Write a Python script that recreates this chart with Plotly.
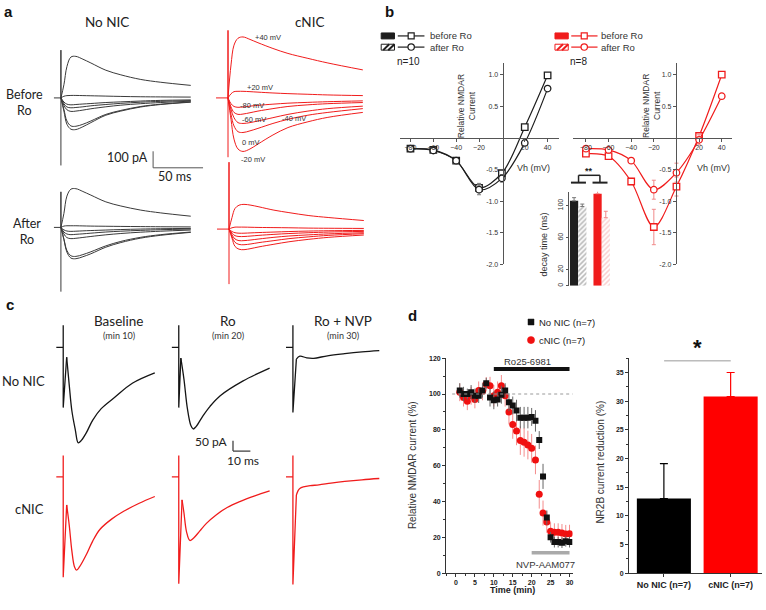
import plotly.graph_objects as go

W, H = 766, 610

# ======================= DATA =======================
# ---- Panel a: example NMDAR currents (time in ms, current in pA) ----
A_T_NONIC = [0, 3, 6, 10, 15, 22, 30, 45, 60, 80, 100, 130]
A_T_CNIC = [0, 3, 6, 10, 15, 22, 30, 45, 60, 80, 100, 135]
A_NONIC_BEFORE = {
    "+40": [0, 80, 190, 248, 252, 235, 212, 168, 140, 112, 95, 76],
    "+20": [0, 10, 14, 15, 15, 14, 13, 11, 9, 7, 6, 5],
    "-80": [0, -25, -38, -42, -40, -37, -34, -28, -24, -19, -15, -12],
    "-60": [0, -35, -55, -60, -58, -54, -48, -40, -33, -26, -21, -16],
    "-40": [0, -45, -72, -82, -80, -74, -66, -54, -44, -35, -28, -20],
    "0": [0, -70, -140, -170, -172, -160, -140, -100, -76, -52, -38, -24],
    "-20": [0, -80, -160, -190, -192, -175, -150, -105, -80, -55, -40, -26],
}
A_NONIC_AFTER = {
    "+40": [0, 85, 190, 232, 235, 218, 196, 155, 130, 105, 88, 68],
    "+20": [0, 8, 10, 10, 10, 9, 8, 7, 6, 5, 4, 3],
    "-80": [0, -15, -22, -24, -23, -21, -19, -16, -13, -10, -8, -6],
    "-60": [0, -28, -40, -44, -42, -39, -35, -28, -23, -18, -14, -10],
    "-40": [0, -40, -62, -68, -66, -61, -55, -45, -37, -29, -23, -16],
    "0": [0, -70, -140, -172, -176, -165, -148, -112, -85, -60, -44, -28],
    "-20": [0, -75, -150, -186, -190, -178, -160, -120, -92, -65, -48, -30],
}
A_CNIC_BEFORE = {
    "+40": [0, 200, 320, 362, 370, 355, 335, 300, 270, 240, 212, 170],
    "+20": [0, 25, 38, 40, 40, 38, 35, 30, 26, 22, 18, 14],
    "-80": [0, -35, -52, -57, -55, -50, -45, -38, -32, -27, -23, -18],
    "-60": [0, -55, -88, -100, -98, -90, -80, -65, -52, -42, -35, -28],
    "-40": [0, -70, -120, -150, -155, -150, -140, -120, -100, -80, -65, -50],
    "0": [0, -100, -170, -205, -210, -200, -185, -155, -130, -105, -88, -65],
    "-20": [0, -130, -250, -310, -325, -310, -280, -225, -180, -145, -118, -88],
}
A_CNIC_AFTER = {
    "+40": [0, 70, 125, 145, 150, 145, 135, 115, 100, 82, 70, 52],
    "+20": [0, 8, 12, 12, 12, 11, 10, 9, 8, 6, 5, 4],
    "-80": [0, -15, -22, -25, -25, -23, -21, -18, -15, -12, -10, -8],
    "-60": [0, -25, -40, -45, -45, -42, -38, -32, -27, -22, -18, -14],
    "-40": [0, -35, -60, -70, -70, -66, -60, -50, -42, -35, -29, -22],
    "0": [0, -45, -80, -93, -95, -90, -82, -70, -58, -47, -38, -28],
    "-20": [0, -55, -105, -122, -125, -118, -108, -92, -77, -62, -50, -36],
}
A_STIM_NONIC_BEFORE = [290, -410]
A_STIM_NONIC_AFTER = [216, -390]
A_STIM_CNIC_BEFORE = [410, -360]
A_STIM_CNIC_AFTER = [406, -334]
A_VOLT_TEXT = ["+40 mV", "+20 mV", "-80 mV", "-60 mV", "-40 mV", "0 mV", "-20 mV"]

# ---- Panel b: I-V relations and decay times ----
IV_V = [-80, -60, -40, -20, 0, 20, 40]
IV_NONIC_BEFORE = [-0.17, -0.19, -0.36, -0.79, -0.56, 0.17, 0.99]
IV_NONIC_BEFORE_ERR = [0.03, 0.03, 0.03, 0.07, 0.06, 0.04, 0.02]
IV_NONIC_AFTER = [-0.17, -0.20, -0.36, -0.82, -0.64, -0.08, 0.78]
IV_NONIC_AFTER_ERR = [0.03, 0.03, 0.03, 0.08, 0.06, 0.04, 0.03]
IV_CNIC_BEFORE = [-0.25, -0.29, -0.69, -1.41, -0.77, 0.03, 1.00]
IV_CNIC_BEFORE_ERR = [0.03, 0.03, 0.05, 0.28, 0.15, 0.05, 0.02]
IV_CNIC_AFTER = [-0.17, -0.19, -0.36, -0.82, -0.55, -0.03, 0.66]
IV_CNIC_AFTER_ERR = [0.03, 0.03, 0.04, 0.15, 0.15, 0.08, 0.03]
IV_XTICKS = [-80, -60, -40, -20, 20, 40]
IV_YTICKS = [-2.0, -1.5, -1.0, -0.5, 0.5, 1.0]
IV_YTICKTEXT = ["-2.0", "-1.5", "-1.0", "-0.5", "0.5", "1.0"]

DECAY_GROUPS = ["No NIC", "cNIC"]
DECAY_BEFORE = [106, 115]
DECAY_BEFORE_ERR = [4, 10]
DECAY_AFTER = [99, 85]
DECAY_AFTER_ERR = [3, 8]
DECAY_TICKS = [0, 20, 60, 100]

# ---- Panel c: currents over the experiment (time in ms, current in pA) ----
C_NONIC_BASE_T = [2, 3.5, 5, 7, 8.7, 10.5, 13.5, 17, 22, 30, 40, 53]
C_NONIC_BASE = [-47, -180, -300, -390, -452, -440, -402, -345, -290, -235, -170, -121]
C_NONIC_RO_T = [1.2, 3, 5, 7, 8.3, 10, 14, 18, 24, 37, 52.6]
C_NONIC_RO = [-51, -150, -290, -370, -386, -375, -324, -280, -229, -160, -98]
C_NONIC_NVP_T = [2, 4, 8, 12, 20, 30, 40, 50]
C_NONIC_NVP = [-56, -42, -50, -52, -40, -30, -22, -16]
C_CNIC_BASE_T = [2, 3.5, 5, 6.5, 7.7, 9.5, 13.5, 17, 21.2, 28, 35, 44, 53]
C_CNIC_BASE = [-133, -230, -350, -425, -441, -425, -366, -305, -249, -200, -163, -125, -93]
C_CNIC_RO_T = [1.9, 3, 4.5, 6.4, 8.5, 12.1, 16, 21.8, 28, 35.3, 44, 52.6]
C_CNIC_RO = [-109, -170, -260, -301, -290, -257, -220, -179, -145, -117, -90, -67]
C_CNIC_NVP_T = [2, 3, 4, 6, 10, 15, 22, 30, 40, 50]
C_CNIC_NVP = [-86, -65, -55, -48, -42, -38, -30, -22, -14, -8]
C_STIM_NONIC = [[104, -285], [104, -285], [104, -308]]
C_STIM_CNIC = [[101, -475], [101, -505], [101, -509]]
C_COLUMNS = ["Baseline", "Ro", "Ro + NVP"]
C_COLUMN_SUB = ["(min 10)", "(min 20)", "(min 30)"]

# ---- Panel d: time course and NR2B fraction ----
TIME_MIN = list(range(1, 31))
NONIC_TC = [102, 100, 100, 101, 99, 99, 102, 106, 98, 96.5, 97, 99.6, 102, 95.4, 93.6,
            90.8, 86.8, 86.8, 86.8, 87.2, 85, 74.3, 54, 31, 20, 17.3, 17.3, 17, 17.8, 17.3]
NONIC_TC_ERR = [4, 4, 3, 4, 4, 4, 4, 3, 5, 5, 4, 5, 4, 5, 5, 6, 6, 6, 6, 5, 6, 5, 7, 4,
                3, 3, 3, 3, 3, 3]
CNIC_TC = [101, 98, 96, 99, 97, 102, 101.5, 105.5, 104.6, 99, 101, 104.6, 99, 90, 83,
           79.4, 74, 73, 71.5, 69.7, 63.2, 44, 33.5, 28.5, 23.3, 22.8, 22.8, 22.4, 21.9, 22]
CNIC_TC_ERR = [5, 5, 5, 5, 5, 5, 5, 4, 5, 6, 6, 6, 6, 7, 8, 8, 8, 8, 8, 8, 8, 8, 7, 6,
               5, 5, 5, 5, 5, 5]
RO_PERIOD = [10, 30]
NVP_PERIOD = [20, 30]
NR2B_GROUPS = ["No NIC (n=7)", "cNIC (n=7)"]
NR2B_MEAN = [13.0, 30.8]
NR2B_ERR = [6.1, 4.2]

# ======================= HELPERS =======================
BLACK = "#1e1e1e"
TRACE_BLACK = "#3a3a3a"
C_BLACK = "#151515"
RED = "#f01c1c"
ARIAL = "Liberation Sans, Arial, sans-serif"
HUMAN = "Lato, Open Sans, sans-serif"

fig = go.Figure()
axes = {}
n_ax = [0]


def new_axes(xpx, ypx, xr, yr, xo=None, yo=None):
    n_ax[0] += 1
    i = n_ax[0]
    sx = "" if i == 1 else str(i)
    xa = dict(domain=[xpx[0] / W, xpx[1] / W], range=xr, anchor="y" + sx,
              visible=False, fixedrange=True, showgrid=False, zeroline=False)
    ya = dict(domain=[1 - ypx[1] / H, 1 - ypx[0] / H], range=yr, anchor="x" + sx,
              visible=False, fixedrange=True, showgrid=False, zeroline=False)
    if xo:
        xa.update(xo)
    if yo:
        ya.update(yo)
    axes["xaxis" + sx] = xa
    axes["yaxis" + sx] = ya
    return "x" + sx, "y" + sx


def trace_axes(xpx, ypx, t0px, basepx, ms_per_px, pa_per_px):
    xr = [(xpx[0] - t0px) * ms_per_px, (xpx[1] - t0px) * ms_per_px]
    yr = [(basepx - ypx[1]) * pa_per_px, (basepx - ypx[0]) * pa_per_px]
    return new_axes(xpx, ypx, xr, yr)


def line_trace(xref, yref, x, y, color, width=1.0, shape="linear"):
    fig.add_trace(go.Scatter(x=x, y=y, xaxis=xref, yaxis=yref, mode="lines",
                             line=dict(color=color, width=width, shape=shape),
                             hoverinfo="skip", showlegend=False))


ann = []
shapes = []


def text(x, y, s, size=9, family=ARIAL, color="#222", xanchor="center", angle=0):
    ann.append(dict(x=x / W, y=1 - y / H, xref="paper", yref="paper", text=s,
                    showarrow=False, xanchor=xanchor, yanchor="middle", textangle=angle,
                    font=dict(size=size, family=family, color=color)))


def pline(x0, y0, x1, y1, color="#333", width=1.0, dash=None):
    shapes.append(dict(type="line", xref="paper", yref="paper", x0=x0 / W, y0=1 - y0 / H,
                       x1=x1 / W, y1=1 - y1 / H, line=dict(color=color, width=width, dash=dash)))


def prect(x0, y0, x1, y1, fill, lc, width=1.0):
    shapes.append(dict(type="rect", xref="paper", yref="paper", x0=x0 / W, y0=1 - y1 / H,
                       x1=x1 / W, y1=1 - y0 / H, fillcolor=fill, line=dict(color=lc, width=width)))


def pcircle(cx, cy, r, fill, lc, width=1.0):
    shapes.append(dict(type="circle", xref="paper", yref="paper", x0=(cx - r) / W,
                       y0=1 - (cy + r) / H, x1=(cx + r) / W, y1=1 - (cy - r) / H,
                       fillcolor=fill, line=dict(color=lc, width=width)))


# ======================= PANEL a =======================
A_MS_PER_PX, A_PA_PER_PX = 1.0, 6.0
A_BLOCKS = [
    (A_NONIC_BEFORE, A_T_NONIC, A_STIM_NONIC_BEFORE, 7, TRACE_BLACK, (45, 200), (20, 172), 61, 95),
    (A_CNIC_BEFORE, A_T_CNIC, A_STIM_CNIC_BEFORE, 12, RED, (205, 372), (20, 172), 228.3, 95),
    (A_NONIC_AFTER, A_T_NONIC, A_STIM_NONIC_AFTER, 7, TRACE_BLACK, (45, 200), (175, 300), 61, 226),
    (A_CNIC_AFTER, A_T_CNIC, A_STIM_CNIC_AFTER, 12, RED, (205, 372), (155, 300), 229.3, 227.7),
]
for traces, t, stim, stub, color, xpx, ypx, t0px, basepx in A_BLOCKS:
    xr_, yr_ = trace_axes(xpx, ypx, t0px, basepx, A_MS_PER_PX, A_PA_PER_PX)
    line_trace(xr_, yr_, [-stub, 0, 0, 0], [0, 0, stim[0], stim[1]], color, 1.0)
    for v, vals in traces.items():
        line_trace(xr_, yr_, t, vals, color, 1.0, "spline")

text(2, 8, "<b>a</b>", 15, ARIAL, "#111", "left")
text(107, 18, "No NIC", 13.5, HUMAN, "#222")
text(310, 18, "cNIC", 13.5, HUMAN, "#222")
text(25, 100, "Before<br>Ro", 12.5, HUMAN, "#222")
text(27, 230, "After<br>Ro", 12.5, HUMAN, "#222")
text(128, 155, "100 pA", 12.5, HUMAN, "#222")
text(175, 175, "50 ms", 12.5, HUMAN, "#222")
pline(153.3, 149, 153.3, 165.7, "#555", 1)
pline(153.3, 165.7, 203.3, 165.7, "#555", 1)
A_VOLT_POS = [(268, 34), (260, 84.3), (252.5, 102.7), (254, 117.3), (294, 115.7), (251, 140), (253, 157.7)]
for s, (x, y) in zip(A_VOLT_TEXT, A_VOLT_POS):
    text(x, y, s, 7.5, ARIAL, "#333")

# ======================= PANEL b =======================
IV_YPX = (60, 263.3)
IV_YR = [-2.0, 1.18]
IV_X0_PY = 135.6
iv_specs = [
    ((400.7, 560), [-89, 50.2], 503.3, IV_NONIC_BEFORE, IV_NONIC_BEFORE_ERR,
     IV_NONIC_AFTER, IV_NONIC_AFTER_ERR, BLACK, "#777"),
    ((574, 733), [-91.2, 49.1], 676.7, IV_CNIC_BEFORE, IV_CNIC_BEFORE_ERR,
     IV_CNIC_AFTER, IV_CNIC_AFTER_ERR, RED, "#f08a8a"),
]
axis_style = dict(visible=True, ticks="outside", ticklen=3, tickcolor="#555", showline=True,
                  linecolor="#555", linewidth=1, tickfont=dict(size=7, color="#333", family=ARIAL),
                  showgrid=False, zeroline=False)
for xpx, xr, yax_px, bef, bef_e, aft, aft_e, color, ecolor in iv_specs:
    xo = dict(axis_style, anchor="free", position=1 - IV_X0_PY / H, tickvals=IV_XTICKS)
    yo = dict(axis_style, anchor="free", position=yax_px / W, tickvals=IV_YTICKS,
              ticktext=IV_YTICKTEXT)
    xr_, yr_ = new_axes(xpx, IV_YPX, xr, IV_YR, xo, yo)
    for vals, errs, sym in [(bef, bef_e, "square"), (aft, aft_e, "circle")]:
        fig.add_trace(go.Scatter(
            x=IV_V, y=vals, xaxis=xr_, yaxis=yr_, mode="lines+markers",
            line=dict(color=color, width=1.2, shape="spline", smoothing=0.9),
            marker=dict(symbol=sym, size=6.5, color="white", line=dict(color=color, width=1.3)),
            error_y=dict(type="data", array=errs, color=ecolor, thickness=1, width=2),
            hoverinfo="skip", showlegend=False))

text(467, 103, "Relative NMDAR<br>Current", 8.5, ARIAL, "#333", angle=-90)
text(653, 103, "Relative NMDAR<br>Current", 8.5, ARIAL, "#333", angle=-90)
text(534, 165.7, "Vh (mV)", 9, ARIAL, "#333")
text(714, 165.7, "Vh (mV)", 9, ARIAL, "#333")
text(383, 8, "<b>b</b>", 15, ARIAL, "#111", "left")
text(396, 58.3, "n=10", 10, ARIAL, "#222", "left")
text(569, 58.3, "n=8", 10, ARIAL, "#222", "left")

# legends (drawn)
for bx0, lx0, lx1, mx, tx, col in [(381.7, 398.3, 425, 411.7, 429, BLACK),
                                    (555.7, 572, 598.3, 585, 600, RED)]:
    prect(bx0, 29.3, bx0 + 13.3, 35.3, col, col, 1)
    pline(lx0, 32.3, lx1, 32.3, col, 1.2)
    prect(mx - 3, 29.3, mx + 3, 35.3, "white", col, 1.2)
    text(tx, 32.3, "before Ro", 9.5, ARIAL, "#333", "left")
    prect(bx0, 40.7, bx0 + 13.3, 46.7, "white", col, 1)
    pline(bx0 + 2, 46.7, bx0 + 8, 40.7, col, 2)
    pline(bx0 + 7, 46.7, bx0 + 13.3, 40.7, col, 2)
    pline(lx0, 43.6, lx1, 43.6, col, 1.2)
    pcircle(mx, 43.6, 3.2, "white", col, 1.2)
    text(tx, 43.6, "after Ro", 9.5, ARIAL, "#333", "left")

# decay time inset
dx_, dy_ = new_axes((569.3, 614), (190, 285), [-0.41, 1.49], [0, 117.3],
                    dict(type="category", categoryarray=DECAY_GROUPS),
                    dict(visible=True, tickvals=DECAY_TICKS, tickangle=-90, ticks="outside",
                         ticklen=2, tickcolor="#555", showline=True, linecolor="#555",
                         tickfont=dict(size=7, color="#333", family=ARIAL)))
DECAY_COLORS = [BLACK, RED]
DECAY_HATCH = ["#6a6a6a", "#f4a0a0"]
DECAY_ECOL = ["#777", "#f08a8a"]
for i, g in enumerate(DECAY_GROUPS):
    fig.add_trace(go.Bar(x=[g], y=[DECAY_BEFORE[i]], xaxis=dx_, yaxis=dy_, width=0.35,
                         offset=-0.35, marker=dict(color=DECAY_COLORS[i], line=dict(width=0)),
                         error_y=dict(type="data", array=[DECAY_BEFORE_ERR[i]], arrayminus=[0],
                                      symmetric=False, color=DECAY_ECOL[i], thickness=1, width=2),
                         cliponaxis=False, hoverinfo="skip", showlegend=False))
    fig.add_trace(go.Bar(x=[g], y=[DECAY_AFTER[i]], xaxis=dx_, yaxis=dy_, width=0.35,
                         offset=0.0,
                         marker=dict(color="white", line=dict(width=0),
                                     pattern=dict(shape="/", fgcolor=DECAY_HATCH[i],
                                                  bgcolor="white", size=3.5, solidity=0.45)),
                         error_y=dict(type="data", array=[DECAY_AFTER_ERR[i]], arrayminus=[0],
                                      symmetric=False, color=DECAY_ECOL[i], thickness=1, width=2),
                         cliponaxis=False, hoverinfo="skip", showlegend=False))
text(545, 243, "decay time (ms)", 9, ARIAL, "#333", angle=-90)
text(589.3, 168.5, "<b>**</b>", 9, ARIAL, "#222")
pline(579.3, 173.3, 600.7, 173.3, "#222", 1.5)
pline(579.3, 173.3, 579.3, 180.7, "#222", 1.5)
pline(600.7, 173.3, 600.7, 180.7, "#222", 1.5)
pline(571.7, 180.7, 586.7, 180.7, "#222", 2)
pline(593.3, 180.7, 608.3, 180.7, "#222", 2)

# ======================= PANEL c =======================
C_MS_PER_PX, C_PA_PER_PX = 10 / 17.3, 50 / 10.7
C_COL_X = [(48, 162, 63.3), (165, 278, 179), (281, 386, 293.3)]
C_ROWS = [((318, 462), 347.3, C_BLACK,
           [(C_NONIC_BASE_T, C_NONIC_BASE), (C_NONIC_RO_T, C_NONIC_RO), (C_NONIC_NVP_T, C_NONIC_NVP)],
           C_STIM_NONIC),
          ((450, 595), 478.3, RED,
           [(C_CNIC_BASE_T, C_CNIC_BASE), (C_CNIC_RO_T, C_CNIC_RO), (C_CNIC_NVP_T, C_CNIC_NVP)],
           C_STIM_CNIC)]
for ypx, basepx, color, series, stims in C_ROWS:
    for (x0, x1, t0px), (t, vals), stim in zip(C_COL_X, series, stims):
        xr_, yr_ = trace_axes((x0, x1), ypx, t0px, basepx, C_MS_PER_PX, C_PA_PER_PX)
        line_trace(xr_, yr_, [-4, 0, 0, 0, t[0]], [0, 0, stim[0], stim[1], vals[0]], color, 1.3)
        line_trace(xr_, yr_, t, vals, color, 1.3, "spline")

text(4, 304, "<b>c</b>", 15, ARIAL, "#111", "left")
for s, sub, cx in zip(C_COLUMNS, C_COLUMN_SUB, [119, 228.3, 343.3]):
    text(cx, 320.7, s, 13.5, HUMAN, "#222")
    text(cx, 335.5, sub, 9, HUMAN, "#333")
text(23.3, 381.7, "No NIC", 13, HUMAN, "#222")
text(30, 510.7, "cNIC", 13, HUMAN, "#222")
text(211.7, 442.7, "50 pA", 12, HUMAN, "#222")
text(243, 461.7, "10 ms", 12, HUMAN, "#222")
pline(233.3, 441.7, 233.3, 452.3, "#333", 1.2)
pline(233.3, 452.3, 250.7, 452.3, "#333", 1.2)

# ======================= PANEL d =======================
d_axis = dict(visible=True, ticks="outside", ticklen=3, tickcolor="#333", showline=True,
              linecolor="#333", linewidth=1, showgrid=False, zeroline=False,
              tickfont=dict(size=7, color="#222", family=ARIAL, weight="bold"))
tx_, ty_ = new_axes((446.7, 573.3), (358.3, 575.7), [-2.6, 30.8], [0, 120],
                    dict(d_axis, tickmode="linear", tick0=0, dtick=5,
                         minor=dict(ticks="outside", ticklen=2, dtick=2.5, tickcolor="#333")),
                    dict(d_axis, tickmode="linear", tick0=0, dtick=20,
                         minor=dict(ticks="outside", ticklen=2, dtick=10, tickcolor="#333")))
fig.add_trace(go.Scatter(x=TIME_MIN, y=CNIC_TC, xaxis=tx_, yaxis=ty_, mode="markers",
                         marker=dict(symbol="circle", size=7, color="#f01010"),
                         error_y=dict(type="data", array=CNIC_TC_ERR, color="#f48c8c",
                                      thickness=1, width=0),
                         hoverinfo="skip", showlegend=False))
fig.add_trace(go.Scatter(x=TIME_MIN, y=NONIC_TC, xaxis=tx_, yaxis=ty_, mode="markers",
                         marker=dict(symbol="square", size=6, color="#111"),
                         error_y=dict(type="data", array=NONIC_TC_ERR, color="#666",
                                      thickness=1, width=0),
                         hoverinfo="skip", showlegend=False))
shapes.append(dict(type="line", xref=tx_, yref=ty_, x0=-1, x1=31, y0=100, y1=100,
                   line=dict(color="#999", width=1, dash="dot")))
shapes.append(dict(type="line", xref=tx_, yref=ty_, x0=RO_PERIOD[0], x1=RO_PERIOD[1],
                   y0=114, y1=114, line=dict(color="#111", width=4)))
shapes.append(dict(type="line", xref=tx_, yref=ty_, x0=NVP_PERIOD[0], x1=NVP_PERIOD[1],
                   y0=11.4, y1=11.4, line=dict(color="#aaa", width=3.5)))
text(528, 361.5, "Ro25-6981", 9.5, ARIAL, "#333")
text(546, 566.7, "NVP-AAM077", 9.5, ARIAL, "#333")
text(413.3, 466.7, "Relative NMDAR current (%)", 10, ARIAL, "#333", angle=-90)
text(513, 593, "<b>Time (min)</b>", 9, ARIAL, "#222")
text(413.3, 315, "<b>d</b>", 15, ARIAL, "#111")
prect(528.7, 318.7, 534.7, 324.7, "#111", "#111", 0.5)
text(538, 321.7, "No NIC (n=7)", 9.5, ARIAL, "#222", "left")
pcircle(531.7, 340, 3.6, "#f01010", "#f01010", 0.5)
text(538, 340, "cNIC (n=7)", 9.5, ARIAL, "#222", "left")

bx_, by_ = new_axes((630, 763), (358.3, 575.7), [-0.52, 1.47], [0, 37.5],
                    dict(d_axis, type="category", categoryarray=NR2B_GROUPS,
                         tickfont=dict(size=9, color="#222", family=ARIAL, weight="bold")),
                    dict(d_axis, tickmode="linear", tick0=0, dtick=5,
                         minor=dict(ticks="outside", ticklen=2, dtick=2.5, tickcolor="#333")))
for g, m, e, c in zip(NR2B_GROUPS, NR2B_MEAN, NR2B_ERR, ["#000000", "#ff0000"]):
    fig.add_trace(go.Bar(x=[g], y=[m], xaxis=bx_, yaxis=by_, width=0.81, offset=-0.405,
                         marker=dict(color=c, line=dict(width=0)),
                         error_y=dict(type="data", array=[e], arrayminus=[0], symmetric=False,
                                      color=c, thickness=1.2, width=4),
                         cliponaxis=False, hoverinfo="skip", showlegend=False))
text(601.7, 463, "NR2B current reduction (%)", 10, ARIAL, "#333", angle=-90)
pline(665, 361, 731.7, 361, "#999", 1)
text(698, 347, "<b>*</b>", 22, ARIAL, "#111")

fig.update_layout(width=W, height=H, margin=dict(l=0, r=0, t=0, b=0),
                  paper_bgcolor="white", plot_bgcolor="rgba(0,0,0,0)",
                  showlegend=False, barmode="overlay", annotations=ann, shapes=shapes,
                  **axes)
fig.write_html("out.html", config={"displayModeBar": False},
               post_script="document.body.style.margin='0';document.body.style.overflow='hidden';")
